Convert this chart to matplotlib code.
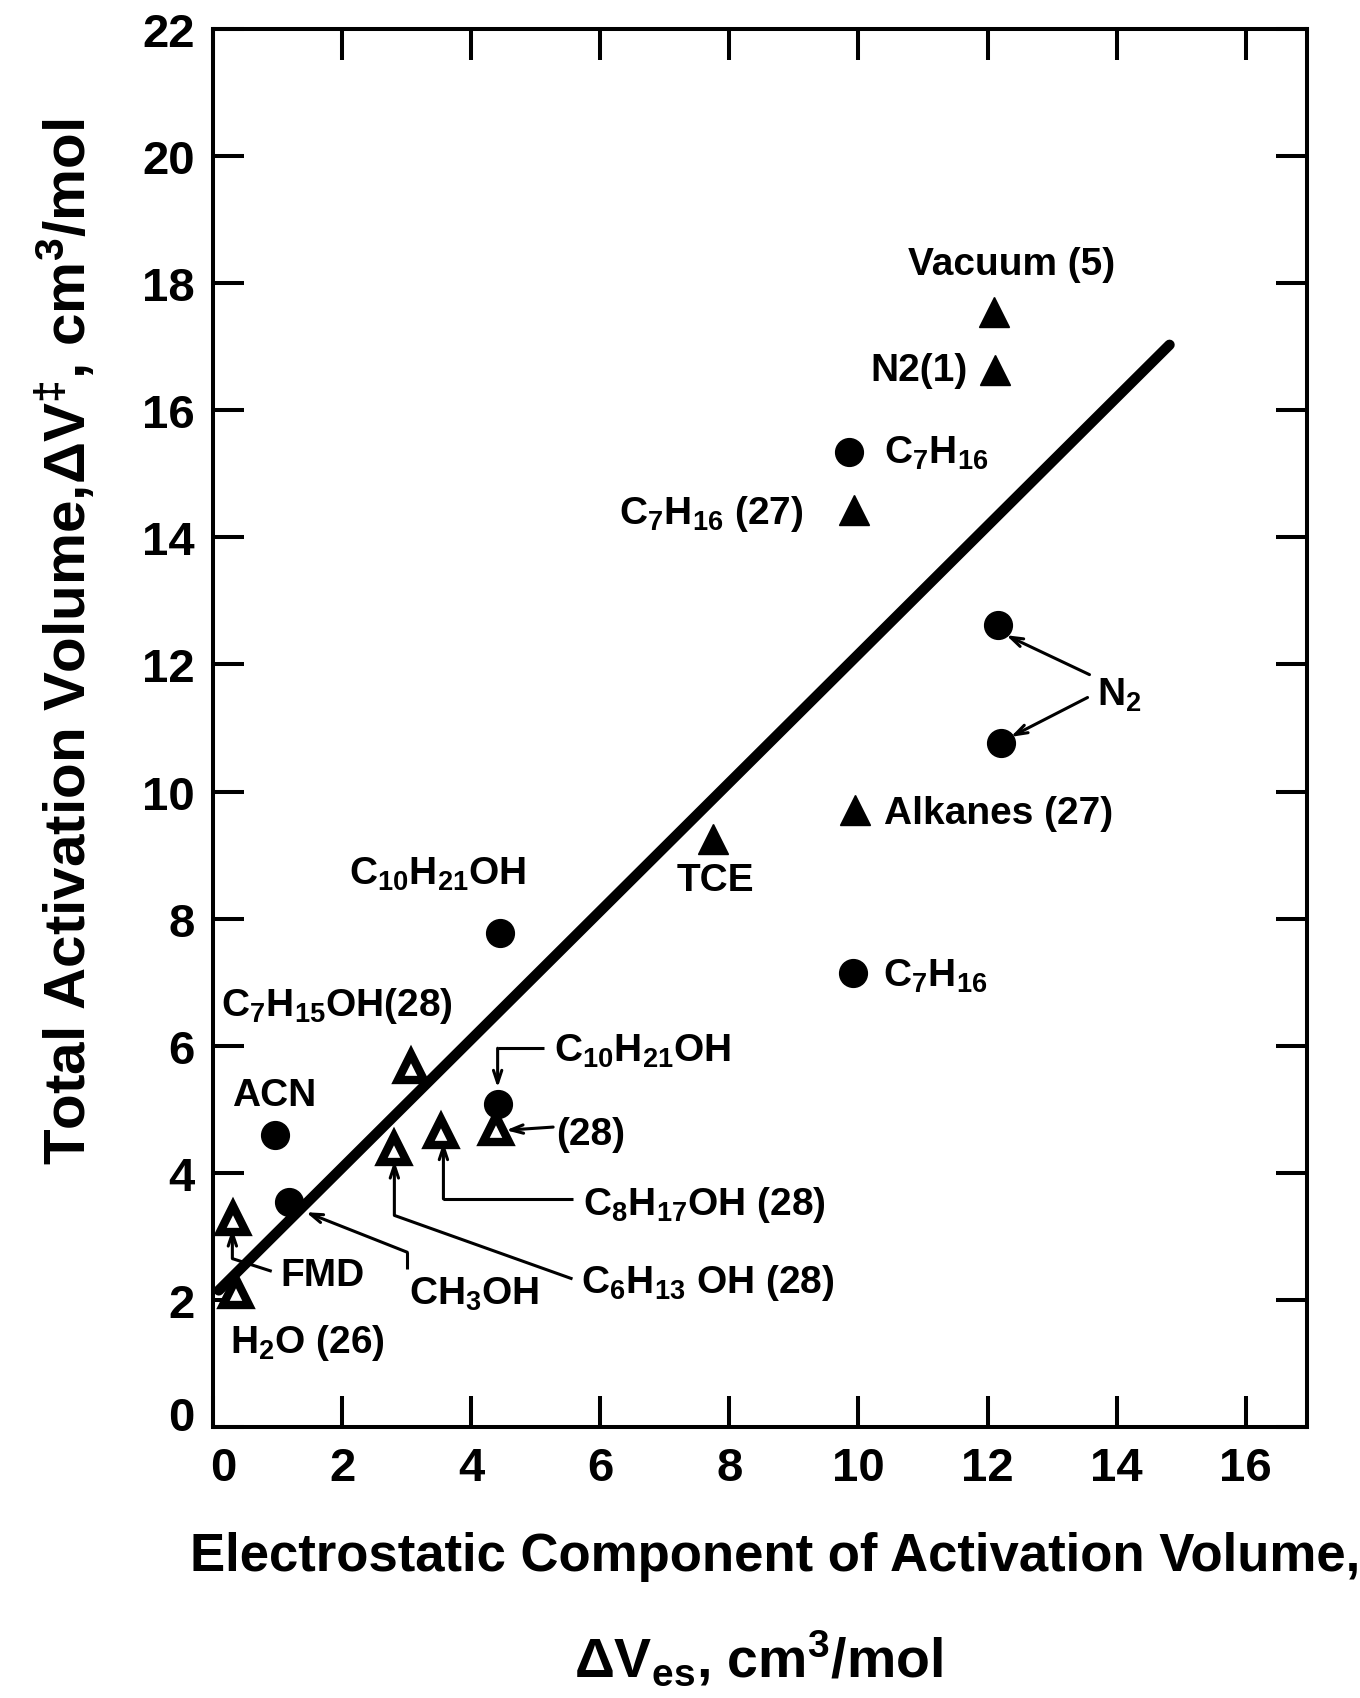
import matplotlib
matplotlib.use("Agg")
import matplotlib.pyplot as plt
import matplotlib.transforms as mtransforms

plt.rcParams['font.family'] = ['Liberation Sans', 'DejaVu Sans']
plt.rcParams['font.weight'] = 'bold'
plt.rcParams['mathtext.fontset'] = 'custom'
plt.rcParams['mathtext.rm'] = 'Liberation Sans:bold'
plt.rcParams['mathtext.it'] = 'Liberation Sans:bold'
plt.rcParams['mathtext.bf'] = 'Liberation Sans:bold'
plt.rcParams['mathtext.default'] = 'regular'

# ---------------- data ----------------
# filled triangles: Vacuum (5), N2(1), C7H16 (27), Alkanes (27), TCE
tri_filled_x = [12.10, 12.12, 9.93, 9.95, 7.74]
tri_filled_y = [17.55, 16.64, 14.43, 9.71, 9.26]
# open triangles: C7H15OH(28), C6H13OH(28), C8H17OH(28), (28), FMD, H2O(26)
tri_open_x = [3.07, 2.81, 3.53, 4.38, 0.31, 0.36]
tri_open_y = [5.66, 4.38, 4.64, 4.69, 3.28, 2.12]
# circles: C7H16, N2, N2, C10H21OH, C7H16, ACN, C10H21OH, CH3OH
circ_x = [9.86, 12.17, 12.21, 4.45, 9.92, 0.96, 4.42, 1.18]
circ_y = [15.34, 12.62, 10.77, 7.78, 7.14, 4.59, 5.09, 3.54]
# correlation line
fit_x = [0.09, 14.82]
fit_y = [2.15, 17.03]

x_ticks = [0, 2, 4, 6, 8, 10, 12, 14, 16]
y_ticks = [0, 2, 4, 6, 8, 10, 12, 14, 16, 18, 20, 22]

# ---------------- figure ----------------
fig = plt.figure(figsize=(13.6, 16.99), dpi=100)
ax = fig.add_axes([213/1360, 1 - 1428/1699, (1307-213)/1360, (1428-30)/1699])
ax.set_xlim(0, 16.95)
ax.set_ylim(0, 22)

for s in ax.spines.values():
    s.set_linewidth(2.9)

ax.set_xticks(x_ticks)
ax.set_yticks(y_ticks)
ax.tick_params(direction='in', length=22, width=2.9, labelsize=34,
               top=True, right=True, pad=13)
ax.tick_params(axis='x', pad=14)
for t in ax.get_xticklabels() + ax.get_yticklabels():
    t.set_fontweight('bold')

# nudge the "0" labels like the original drawing
xl = ax.get_xticklabels()
yl = ax.get_yticklabels()
xl[0].set_transform(xl[0].get_transform() +
                    mtransforms.ScaledTranslation(10/100, 0, fig.dpi_scale_trans))
yl[0].set_transform(yl[0].get_transform() +
                    mtransforms.ScaledTranslation(0, 14/100, fig.dpi_scale_trans))

# fit line
ax.plot(fit_x, fit_y, color='black', lw=7.5, solid_capstyle='round', zorder=2)

# markers
ax.plot(tri_filled_x, tri_filled_y, ls='none', marker='^', ms=22,
        mfc='black', mec='black', mew=1, zorder=3)
ax.plot(tri_open_x, tri_open_y, ls='none', marker='^', ms=19,
        mfc='white', mec='black', mew=6, zorder=3)
ax.plot(circ_x, circ_y, ls='none', marker='o', ms=20,
        mfc='black', mec='black', zorder=3)

FS = 28
def lab(x, y, s, ha='left', va='baseline'):
    ax.text(x, y, s, fontsize=FS, ha=ha, va=va, color='black',
            fontweight='bold', zorder=4)

lab(12.38, 18.30, 'Vacuum (5)', ha='center', va='center')
lab(11.69, 16.64, 'N2(1)', ha='right', va='center')
lab(10.39, 15.17, r'C$_7$H$_{16}$')
lab(6.29, 14.22, r'C$_7$H$_{16}$ (27)')
lab(13.69, 11.37, r'N$_2$')
lab(10.40, 9.51, 'Alkanes (27)')
lab(7.79, 8.45, 'TCE', ha='center')
lab(10.38, 6.94, r'C$_7$H$_{16}$')
lab(2.11, 8.55, r'C$_{10}$H$_{21}$OH')
lab(0.12, 6.48, r'C$_7$H$_{15}$OH(28)')
lab(0.29, 5.06, 'ACN')
lab(5.29, 5.77, r'C$_{10}$H$_{21}$OH')
lab(5.31, 4.46, '(28)')
lab(5.73, 3.35, r'C$_8$H$_{17}$OH (28)')
lab(5.70, 2.12, r'C$_6$H$_{13}$ OH (28)')
lab(1.05, 2.23, 'FMD')
lab(3.04, 1.94, r'CH$_3$OH')
lab(0.27, 1.18, r'H$_2$O (26)')

# leader lines with arrows
aprops = dict(arrowstyle='->,head_length=0.9,head_width=0.3', color='black',
              lw=2.2, shrinkA=0, shrinkB=0)
leaders = [
    [(13.58, 11.84), (12.29, 12.46)],
    [(13.55, 11.48), (12.36, 10.86)],
    [(0.91, 2.45), (0.30, 2.65), (0.30, 3.12)],
    [(3.01, 2.49), (3.01, 2.75), (1.44, 3.38)],
    [(5.57, 2.33), (2.81, 3.33), (2.81, 4.19)],
    [(5.57, 3.59), (3.57, 3.59), (3.57, 4.48)],
    [(5.13, 5.96), (4.41, 5.96), (4.41, 5.34)],
    [(5.27, 4.72), (4.54, 4.67)],
]
for pts in leaders:
    if len(pts) > 2:
        ax.plot([p[0] for p in pts[:-1]], [p[1] for p in pts[:-1]],
                color='black', lw=2.2, zorder=4, solid_capstyle='butt')
    ax.annotate('', xy=pts[-1], xytext=pts[-2], arrowprops=aprops, zorder=4)

# axis labels
fig.text(65/1360, 1 - 642/1699,
         r'Total Activation Volume,ΔV$^{\ddag}$, cm$^3$/mol',
         rotation=90, ha='center', va='center', fontsize=42, fontweight='bold')
fig.text(775/1360, 1 - 1557/1699,
         'Electrostatic Component of Activation Volume,',
         ha='center', va='center', fontsize=38, fontweight='bold')
fig.text(758/1360, 1 - 1660/1699,
         r'ΔV$_{es}$, cm$^3$/mol',
         ha='center', va='center', fontsize=40, fontweight='bold')

fig.savefig('out.png', dpi=100)
